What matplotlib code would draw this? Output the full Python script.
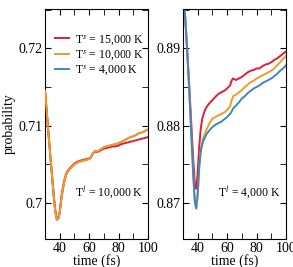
import numpy as np
import matplotlib.pyplot as plt
from matplotlib.ticker import MultipleLocator

plt.rcParams['font.family'] = 'Liberation Serif'
plt.rcParams['mathtext.fontset'] = 'stix'

# left panel, T^l = 10,000 K
t_left = [30, 31, 32, 33, 34, 35, 36, 37, 38, 39, 40, 41, 42, 43, 44, 45, 47, 49, 51, 53,
          55, 57, 59, 61, 62, 63, 64, 66, 68, 70, 72, 74, 76, 78, 80, 82, 84, 86, 88, 90,
          92, 94, 96, 98, 100]
red_left = [0.7145, 0.7122, 0.7098, 0.7075, 0.7052, 0.7030, 0.7008, 0.6990, 0.6980, 0.6980,
            0.6988, 0.7005, 0.7018, 0.7028, 0.7035, 0.7040, 0.7045, 0.7049, 0.7052, 0.7054,
            0.7055, 0.7056, 0.7057, 0.7058, 0.7062, 0.7065, 0.7066, 0.7066, 0.7068, 0.7070,
            0.7071, 0.7072, 0.7073, 0.7073, 0.7074, 0.7076, 0.7077, 0.7078, 0.7079, 0.7080,
            0.7081, 0.7082, 0.7083, 0.7084, 0.7085]
orange_left = [0.7145, 0.7122, 0.7098, 0.7075, 0.7052, 0.7030, 0.7008, 0.6988, 0.6978, 0.6979,
               0.6987, 0.7003, 0.7016, 0.7026, 0.7034, 0.7039, 0.7044, 0.7048, 0.7051, 0.7053,
               0.7054, 0.7055, 0.7056, 0.7058, 0.7062, 0.7065, 0.7067, 0.7067, 0.7069, 0.7072,
               0.7073, 0.7074, 0.7075, 0.7076, 0.7077, 0.7079, 0.7081, 0.7083, 0.7085, 0.7086,
               0.7088, 0.7090, 0.7091, 0.7093, 0.7095]
blue_left = orange_left

# right panel, T^l = 4,000 K
t_right = [30, 32, 34, 36, 37, 38, 39, 40, 41, 42, 43, 44, 45, 46, 48, 50, 52, 54, 56, 58,
           60, 62, 63, 64, 65, 66, 68, 70, 72, 74, 76, 78, 80, 82, 84, 86, 88, 90, 92, 94,
           96, 98, 100]
red_right = [0.8985, 0.8925, 0.8860, 0.8790, 0.8755, 0.8725, 0.8718, 0.8740, 0.8772, 0.8795,
             0.8808, 0.8815, 0.8820, 0.8824, 0.8829, 0.8833, 0.8837, 0.8841, 0.8843, 0.8845,
             0.8848, 0.8852, 0.8858, 0.8861, 0.8860, 0.8859, 0.8861, 0.8863, 0.8866, 0.8869,
             0.8871, 0.8872, 0.8874, 0.8874, 0.8877, 0.8879, 0.8880, 0.8882, 0.8885, 0.8887,
             0.8890, 0.8893, 0.8896]
orange_right = [0.8985, 0.8925, 0.8855, 0.8775, 0.8735, 0.8702, 0.8692, 0.8710, 0.8745, 0.8768,
                0.8778, 0.8785, 0.8790, 0.8795, 0.8803, 0.8809, 0.8811, 0.8813, 0.8815, 0.8817,
                0.8820, 0.8825, 0.8832, 0.8838, 0.8839, 0.8840, 0.8843, 0.8846, 0.8850, 0.8853,
                0.8856, 0.8858, 0.8861, 0.8863, 0.8865, 0.8867, 0.8869, 0.8871, 0.8874, 0.8878,
                0.8882, 0.8886, 0.8890]
blue_right = [0.8985, 0.8925, 0.8855, 0.8775, 0.8735, 0.8702, 0.8693, 0.8712, 0.8746, 0.8766,
              0.8775, 0.8781, 0.8785, 0.8789, 0.8794, 0.8798, 0.8801, 0.8803, 0.8805, 0.8808,
              0.8811, 0.8815, 0.8818, 0.8822, 0.8824, 0.8826, 0.8830, 0.8835, 0.8838, 0.8842,
              0.8845, 0.8848, 0.8850, 0.8852, 0.8855, 0.8857, 0.8859, 0.8861, 0.8864, 0.8867,
              0.8871, 0.8874, 0.8878]

labels = [r'T$^{s}$ = 15,000 K', r'T$^{s}$ = 10,000 K', r'T$^{s}$ = 4,000 K']
colors = ['#dd2035', '#f29b24', '#3f85c3']

fig = plt.figure(figsize=(2.93, 2.67), dpi=100)
ax1 = fig.add_axes([45 / 293, 1 - 239 / 267, 103 / 293, 230 / 267])
ax2 = fig.add_axes([183 / 293, 1 - 239 / 267, 103 / 293, 230 / 267])

ax1.plot(t_left, blue_left, color=colors[2], lw=1.4, label=labels[2], zorder=1)
ax1.plot(t_left, red_left, color=colors[0], lw=1.4, label=labels[0], zorder=2)
ax1.plot(t_left, orange_left, color=colors[1], lw=1.4, label=labels[1], zorder=3)
h, l = ax1.get_legend_handles_labels()
order = [1, 2, 0]
ax1.legend([h[i] for i in order], [l[i] for i in order], loc='upper left',
           bbox_to_anchor=(0.02, 0.93), frameon=False, fontsize=8.5,
           handlelength=1.2, handletextpad=0.5, labelspacing=0.15, borderpad=0.2)

ax2.plot(t_right, red_right, color=colors[0], lw=1.4)
ax2.plot(t_right, orange_right, color=colors[1], lw=1.4)
ax2.plot(t_right, blue_right, color=colors[2], lw=1.4)

ax1.set_ylim(0.6953, 0.7251)
ax2.set_ylim(0.8653, 0.8951)
ax1.set_yticks([0.70, 0.71, 0.72])
ax1.set_yticklabels(['0.7', '0.71', '0.72'])
ax2.set_yticks([0.87, 0.88, 0.89])
ax2.set_yticklabels(['0.87', '0.88', '0.89'])

for ax in (ax1, ax2):
    ax.set_xlim(30, 100)
    ax.set_xticks([40, 60, 80, 100])
    ax.xaxis.set_minor_locator(MultipleLocator(10))
    ax.yaxis.set_minor_locator(MultipleLocator(0.005))
    ax.tick_params(which='both', direction='in', top=True, right=True,
                   labelsize=10, pad=2, length=4)
    ax.set_xlabel('time (fs)', fontsize=10, labelpad=-0.5)

ax1.set_ylabel('probability', fontsize=10, labelpad=2)
ax1.text(0.95, 0.20, r'T$^{l}$ = 10,000 K', transform=ax1.transAxes,
         ha='right', va='center', fontsize=8.5)
ax2.text(0.95, 0.20, r'T$^{l}$ = 4,000 K', transform=ax2.transAxes,
         ha='right', va='center', fontsize=8.5)

fig.savefig('out.png', dpi=100)
